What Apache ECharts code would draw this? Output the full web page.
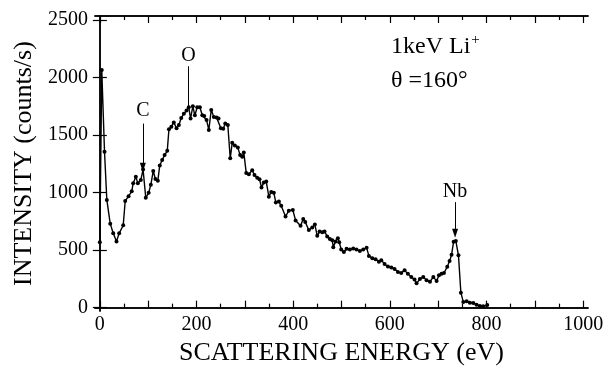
<!DOCTYPE html>
<html><head><meta charset="utf-8">
<script src="https://cdn.jsdelivr.net/npm/echarts@6/dist/echarts.min.js"></script>
<style>html,body{margin:0;padding:0;background:#fff}#c{width:610px;height:371px}</style>
</head><body><div id="c"></div>
<script>
// Scattering energy (eV)
const energy = [0,4,9.7,14.5,21.5,27.7,34.5,40,48.4,52.5,59.4,66,69,74.5,78.6,84.8,89.5,95,101,105.5,110.5,115,120,124,129,134,139.5,143,148,153,158.7,163.5,168.4,173.8,179.4,184,187.7,192.4,196.6,201.5,207,212,216,220.8,225.5,230.5,235.9,241.5,245.6,250.4,255.3,259.5,264.8,269.8,273.9,279.3,285.5,290.3,294.6,297.9,302.9,308.3,315.3,320,325.6,330.4,334.5,339.3,344.3,349.7,354.6,360,364.2,370.4,375.3,384.2,391,399.3,405,415.3,420.8,425,432.4,439.5,444.9,449.8,454.6,460.2,464.9,470.5,475.9,480.9,483,487.7,492.5,495.3,499.4,504.9,510.5,517.3,524.3,531,538,545,552,556.7,563.8,570.5,577.4,582.3,589.1,596,603,609.8,616.7,623.6,630.5,637.3,644.4,651.1,655.3,662.2,669.2,676,683,690,696.8,701.7,707,712,718.8,723.6,727.7,732,736.5,742,747,752,759,765.5,772.6,779.4,786.3,793.3,801.6];
// Intensity (counts/s)
const intensity = [568,2065,1354,936,730,646,576,646,716,927,969,1011,1082,1138,1082,1110,1200,955,998,1068,1188,1118,1104,1236,1284,1326,1363,1551,1573,1610,1559,1587,1649,1685,1714,1742,1643,1750,1672,1742,1742,1672,1665,1630,1545,1719,1658,1652,1643,1559,1554,1601,1587,1298,1433,1410,1391,1326,1312,1348,1171,1160,1194,1152,1129,1116,1045,1087,1096,964,1006,998,913,922,885,792,843,849,758,711,770,745,674,697,722,624,661,655,661,619,596,585,526,576,604,568,506,484,512,506,514,506,492,506,520,450,430,421,399,413,379,357,349,337,309,301,324,295,267,244,211,248,267,239,225,267,231,281,295,301,355,405,460,573,580,455,130,50,56,42,40,25,14,12,22];
// Tick values
const xMajorTicks = [0,100,200,300,400,500,600,700,800,900,1000];
const xMinorTicks = [50,150,250,350,450,550,650,750,850,950];
const xLabelTicks = [0,200,400,600,800,1000];
const yTicks = [0,500,1000,1500,2000,2500];
// Peak annotations: name, energy, label intensity, line top, line tip, arrow
const annNames = ['C','O','Nb'];
const annEnergy = [89,183.5,735];
const annLabelY = [1710,2190,1010];
const annLineTop = [1600,2098,917];
const annLineTip = [1221,1745,647];
const annArrow = [true,false,true];

const FONT = '"Liberation Serif","DejaVu Serif",serif';
const XMIN = -10, XMAX = 1010, YMIN = -30, YMAX = 2535;

const chart = echarts.init(document.getElementById('c'), null, {renderer:'canvas'});
const lineAxis = {show:true, lineStyle:{color:'#000', width:1.5}};
const plain = v => String(v);
function xAx(pos, ticks, len, labels, extra){
  return Object.assign({
    type:'value', position:pos, min:XMIN, max:XMAX,
    axisLine: lineAxis,
    axisTick:{show:true, inside:true, length:len, customValues:ticks, lineStyle:{color:'#000', width:1.2}},
    axisLabel: labels ? {show:true, customValues:xLabelTicks, formatter:plain, color:'#000', fontFamily:FONT, fontSize:20, margin:4} : {show:false},
    splitLine:{show:false}
  }, extra||{});
}
function yAx(pos, labels, extra){
  return Object.assign({
    type:'value', position:pos, min:YMIN, max:YMAX,
    axisLine: lineAxis,
    axisTick:{show:true, inside:true, length:7, customValues:yTicks, lineStyle:{color:'#000', width:1.2}},
    axisLabel: labels ? {show:true, customValues:yTicks, formatter:plain, color:'#000', fontFamily:FONT, fontSize:20, margin:7} : {show:false},
    splitLine:{show:false}
  }, extra||{});
}

const markData = annNames.map((n,i)=>[
  {coord:[annEnergy[i], annLineTop[i]], symbol:'none'},
  {coord:[annEnergy[i], annLineTip[i]], symbol: annArrow[i] ? 'triangle' : 'none'}
]);

chart.setOption({
  animation:false,
  backgroundColor:'#fff',
  grid:{left:95, right:22, top:16, bottom:51, containLabel:false},
  xAxis:[
    xAx('bottom', xMajorTicks, 7, true, {
      name:'SCATTERING ENERGY (eV)', nameLocation:'middle', nameGap:22,
      nameTextStyle:{color:'#000', fontFamily:FONT, fontSize:26, verticalAlign:'top'}
    }),
    xAx('bottom', xMinorTicks, 4, false),
    xAx('top', xMajorTicks, 7, false),
    xAx('top', xMinorTicks, 4, false)
  ],
  yAxis:[
    yAx('left', true, {
      name:'INTENSITY (counts/s)', nameLocation:'middle', nameGap:51,
      nameTextStyle:{color:'#000', fontFamily:FONT, fontSize:26}
    }),
    yAx('right', false)
  ],
  series:[
    {
      type:'line', xAxisIndex:0, yAxisIndex:0,
      data: energy.map((e,i)=>[e, intensity[i]]),
      symbol:'circle', symbolSize:4, showSymbol:true,
      itemStyle:{color:'#000'},
      lineStyle:{color:'#000', width:1.4},
      markLine:{
        silent:true, symbolSize:[6,9],
        lineStyle:{color:'#000', width:1, type:'solid'},
        label:{show:false},
        itemStyle:{color:'#000'},
        data: markData
      }
    },
    {
      type:'scatter', xAxisIndex:0, yAxisIndex:0, symbolSize:0,
      itemStyle:{opacity:1, color:'#000'},
      data: annNames.map((n,i)=>({name:n, value:[annEnergy[i], annLabelY[i]]})),
      label:{show:true, position:'inside', formatter:p=>p.name, color:'#000', opacity:1, fontFamily:FONT, fontSize:20}
    }
  ],
  graphic:[
    {type:'text', left:391, top:33, style:{
      text:'1keV Li{sup|+}', font:'24px '+FONT, fill:'#000',
      rich:{sup:{fontSize:15, fontFamily:FONT, verticalAlign:'top', padding:[0,0,12,1]}}
    }},
    {type:'text', left:391, top:69, style:{text:'θ =160°', font:'24px '+FONT, fill:'#000'}}
  ]
});
</script>
</body></html>
